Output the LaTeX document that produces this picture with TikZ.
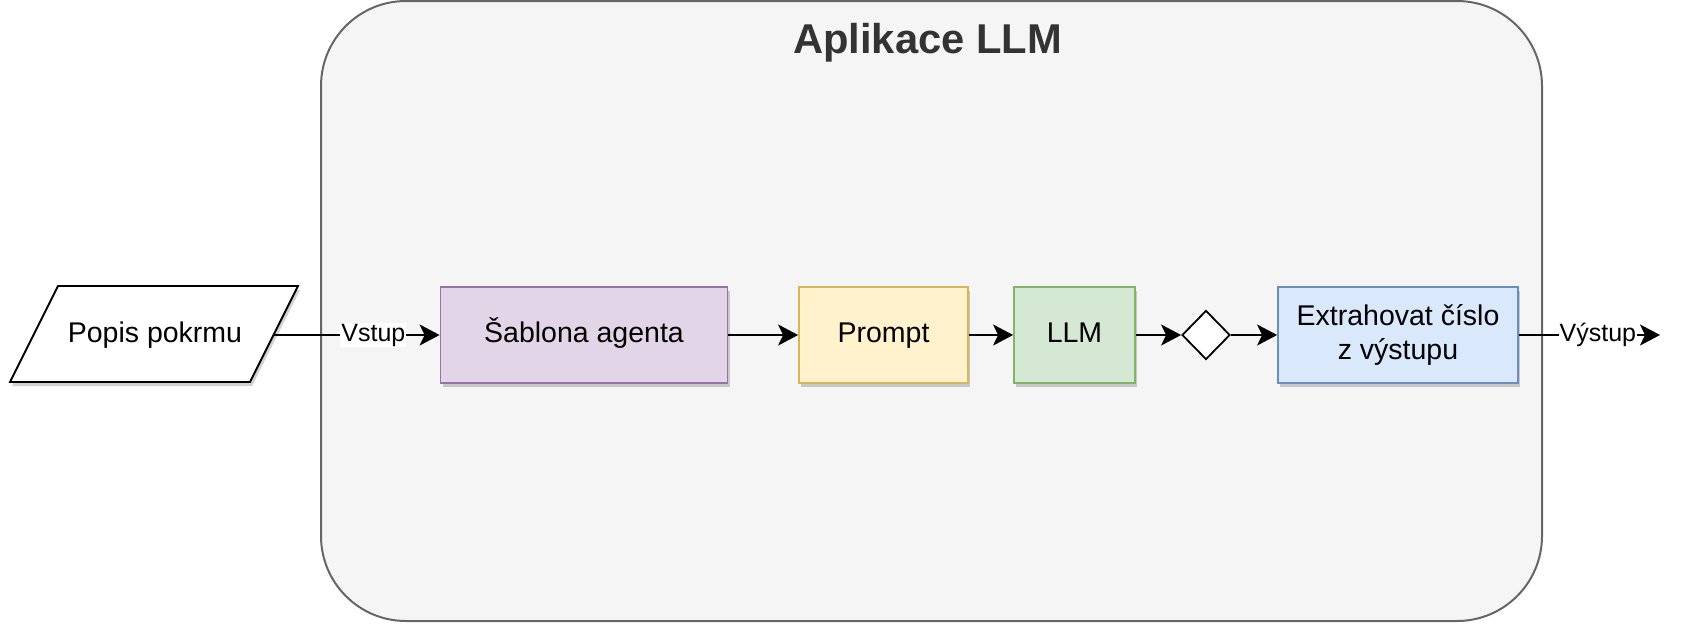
\documentclass[tikz,border=0pt]{standalone}
\usepackage{fontspec}
\setmainfont{Liberation Sans}
\usetikzlibrary{shapes.geometric,arrows.meta,shadows}
\definecolor{contfill}{HTML}{F5F5F5}
\definecolor{contdraw}{HTML}{666666}
\definecolor{titlecol}{HTML}{333333}
\definecolor{purfill}{HTML}{E1D5E7}
\definecolor{purdraw}{HTML}{9673A6}
\definecolor{yelfill}{HTML}{FFF2CC}
\definecolor{yeldraw}{HTML}{D6B656}
\definecolor{grnfill}{HTML}{D5E8D4}
\definecolor{grndraw}{HTML}{82B366}
\definecolor{blufill}{HTML}{DAE8FC}
\definecolor{bludraw}{HTML}{6C8EBF}
\begin{document}
\begin{tikzpicture}[x=1pt,y=-1pt,
  shade/.style={drop shadow={shadow xshift=2pt,shadow yshift=-4pt,opacity=0.18,fill=black}},
  boxtext/.style={font=\fontsize{28.5}{34}\selectfont, align=center, text=black},
  onetext/.style={text height=21pt, text depth=6pt},
  procbox/.style={boxtext, shape=rectangle, line width=1.8pt, minimum height=96, inner sep=0pt, shade},
  container/.style={draw=contdraw, fill=contfill, line width=2pt, rounded corners=85pt, inner sep=0pt},
  conn/.style={draw=black, line width=2pt, -{Stealth[length=20pt,width=21pt,inset=5pt]}},
  lbl/.style={fill=white, inner sep=1pt, font=\fontsize{25}{30}\selectfont, text=black}
]
\useasboundingbox (0,0) rectangle (1681,624);

% container
\node[container, minimum width=1221, minimum height=620] (app) at (931.5,311) {};
\node[anchor=base, font=\fontsize{41.7}{50}\selectfont\bfseries, text=titlecol] (title) at (927.5,53) {Aplikace LLM};

% input parallelogram
\coordinate (pTL) at (58,286);
\coordinate (pTR) at (298,286);
\coordinate (pBR) at (250,382);
\coordinate (pBL) at (10,382);
\filldraw[draw=black, fill=white, line width=1.8pt, line join=miter, shade] (pTL) -- (pTR) -- (pBR) -- (pBL) -- cycle;
\node[boxtext, onetext, inner sep=0pt] (pop) at (155,335) {Popis pokrmu};
\coordinate (popR) at (274,335);

% process boxes
\node[procbox, onetext, draw=purdraw, fill=purfill, minimum width=287] (sab) at (584,335) {Šablona agenta};
\node[procbox, onetext, draw=yeldraw, fill=yelfill, minimum width=169] (prm) at (883.5,335) {Prompt};
\node[procbox, onetext, draw=grndraw, fill=grnfill, minimum width=121] (llm) at (1074.5,335) {LLM};
\node[shape=diamond, draw=black, fill=white, line width=1.8pt, minimum width=48, minimum height=49, inner sep=0pt] (dec) at (1206,335) {};
\node[procbox, draw=bludraw, fill=blufill, minimum width=240] (ext) at (1398,335) {Extrahovat číslo\\z výstupu};
\coordinate (out) at (1660,335);

% connectors
\draw[conn] (popR) -- node[lbl, pos=0.6] {Vstup} (sab.west);
\draw[conn] (sab.east) -- (prm.west);
\draw[conn] (prm.east) -- (llm.west);
\draw[conn] (llm.east) -- (dec.west);
\draw[conn] (dec.east) -- (ext.west);
\draw[conn] (ext.east) -- node[lbl, pos=0.56] {Výstup} (out);
\end{tikzpicture}
\end{document}
